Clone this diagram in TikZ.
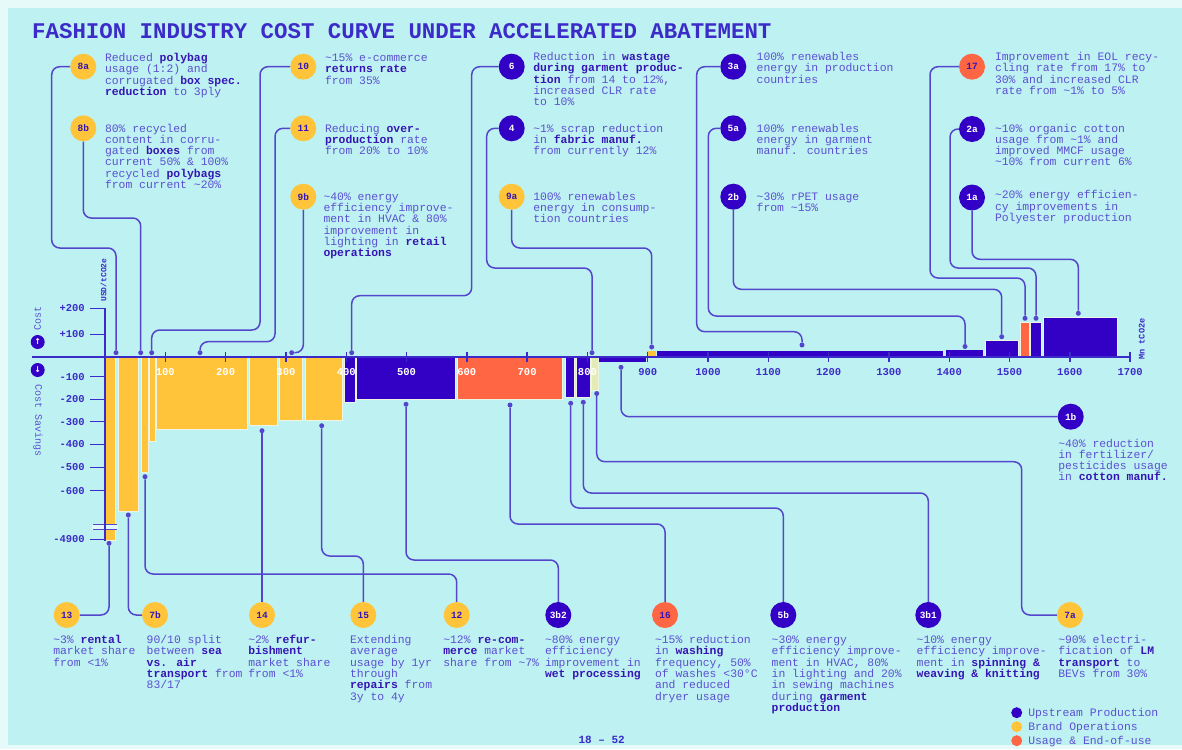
\documentclass[tikz,border=0pt]{standalone}
\usepackage{fontspec}
\newfontfamily\mono{Liberation Mono}
\newfontfamily\djv{DejaVu Sans}
\definecolor{bg}{HTML}{BEF2F2}
\definecolor{rim}{HTML}{E6FAFA}
\definecolor{upC}{HTML}{3300C6}
\definecolor{brandC}{HTML}{FFC43A}
\definecolor{useC}{HTML}{FF6644}
\definecolor{paleC}{HTML}{E4EBB5}
\definecolor{lineC}{HTML}{5346CC}
\definecolor{txtC}{HTML}{5B50D2}
\definecolor{boldC}{HTML}{3516B4}
\definecolor{axisC}{HTML}{3B2BC9}
\definecolor{sepC}{HTML}{EEF4E4}
\newcommand{\TB}[1]{\vtop{\baselineskip=11.33pt\lineskiplimit=-50pt\lineskip=0pt #1}}
\newcommand{\TL}[1]{\hbox{#1}}
\newcommand{\Bx}[1]{{\bfseries\color{boldC}#1}}
\newcommand{\tl}{\textasciitilde}
\tikzset{
  conn/.style={draw=lineC, line width=1.5pt, rounded corners=8pt},
  dotn/.style={circle, fill=lineC, inner sep=0pt, minimum size=5pt},
  lab/.style={circle, inner sep=0pt, minimum size=26pt, font=\mono\bfseries\fontsize{9.5}{10}\selectfont},
  labU/.style={lab, fill=upC, text=white},
  labB/.style={lab, fill=brandC, text=boldC},
  labO/.style={lab, fill=useC, text=boldC},
  desc/.style={anchor=base west, inner sep=0pt, outer sep=0pt, text=txtC, font=\mono\fontsize{11.4}{11.33}\selectfont},
  bar/.style={draw=sepC, line width=0.6pt},
  ytl/.style={anchor=east, inner sep=0pt, text=axisC, font=\mono\bfseries\fontsize{10.5}{11}\selectfont},
  xtl/.style={inner sep=0pt, font=\mono\bfseries\fontsize{10.5}{11}\selectfont},
  axl/.style={draw=axisC, line width=1.4pt},
}
\begin{document}
\begin{tikzpicture}[x=1pt,y=-1pt]
\useasboundingbox (0,0) rectangle (1182,749);
\fill[rim] (0,0) rectangle (1182,749);
\fill[bg] (8,8) rectangle (1182,745);

% title
\node[anchor=base west, inner sep=0pt, text=axisC, font=\mono\bfseries\fontsize{22.4}{24}\selectfont] (title) at (32,38.5) {FASHION INDUSTRY COST CURVE UNDER ACCELERATED ABATEMENT};

% ---------- bars ----------
\path[bar, fill=brandC] (105,357) rectangle (115,540);
\path[bar, fill=brandC] (118,357) rectangle (138,511.7);
\path[bar, fill=brandC] (141.7,357) rectangle (148.3,472.7);
\path[bar, fill=brandC] (149.3,357) rectangle (155,441);
\path[bar, fill=brandC] (156,357) rectangle (247.3,429);
\path[bar, fill=brandC] (249.3,357) rectangle (277.7,425.7);
\path[bar, fill=brandC] (279.3,357) rectangle (302.7,420.3);
\path[bar, fill=brandC] (305,357) rectangle (342.7,420.3);
\path[bar, fill=upC] (344.3,357) rectangle (355,402.7);
\path[bar, fill=upC] (356.5,357) rectangle (455,399);
\path[bar, fill=useC] (457.3,357) rectangle (562.7,399);
\path[bar, fill=upC] (565,357) rectangle (574,397.3);
\path[bar, fill=upC] (576.3,357) rectangle (590.7,397.3);
\path[bar, fill=paleC] (591.7,357) rectangle (598.3,390);
\path[fill=upC] (598.7,357) rectangle (646,362);
\path[fill=brandC] (647,357) rectangle (656,351);
\path[fill=upC] (656.5,357) rectangle (943,351);
\path[fill=upC] (946,357) rectangle (983,350);
\path[bar, fill=upC] (985,357) rectangle (1018.3,340.7);
\path[bar, fill=useC] (1020.7,357) rectangle (1029.3,322.7);
\path[bar, fill=upC] (1030.7,357) rectangle (1041.7,322.7);
\path[bar, fill=upC] (1043.3,357) rectangle (1117.3,317.3);

% break on the deepest bar
\fill[white!55!bg] (92,524.5) rectangle (118,529.5);
\draw[lineC, line width=1pt] (93,524.5) -- (117,524.5) (93,529.5) -- (117,529.5);

% ---------- axes ----------
\draw[draw=axisC, line width=2.2pt] (32,357) -- (1130,357);
\foreach \v in {100,200,...,1700} {
  \draw[axl] ({105+\v*0.603},352) -- ({105+\v*0.603},362);
}
\foreach \v in {100,200,...,800} {
  \node[xtl, text=white] at ({105+\v*0.603},372.5) {\v};
}
\foreach \v in {900,1000,...,1700} {
  \node[xtl, text=axisC] at ({105+\v*0.603},372.5) {\v};
}
\draw[axl] (90,308.3) -- (105,308.3) -- (105,541);
\draw[axl] (90,334.3) -- (105,334.3);
\foreach \yy/\t in {376.7/-100,399.3/-200,421.7/-300,444.3/-400,467.3/-500,490.7/-600,539.3/-4900} {
  \draw[axl] (90,\yy) -- (105,\yy);
  \node[ytl] at (85,\yy) {\t};
}
\node[ytl] (yp2) at (85,308.3) {+200};
\node[ytl] (yp1) at (85,334.3) {+100};
\node[rotate=90, inner sep=0pt, text=axisC, font=\mono\bfseries\fontsize{8}{8}\selectfont] (unit) at (103.5,280) {USD/tCO2e};
\node[rotate=90, inner sep=0pt, text=axisC, font=\mono\bfseries\fontsize{8.6}{9}\selectfont] (mnt) at (1141.7,339) {Mn tCO2e};
\node[rotate=90, inner sep=0pt, text=txtC, font=\mono\fontsize{10}{10}\selectfont] (costl) at (37.7,318) {Cost};
\node[rotate=-90, inner sep=0pt, text=txtC, font=\mono\fontsize{10}{10}\selectfont] (savl) at (38,421) {Cost Savings};
\node[circle, fill=upC, minimum size=14pt, inner sep=0pt, text=white, font=\djv\bfseries\fontsize{8}{8}\selectfont] (upc) at (37.7,342) {↑};
\node[circle, fill=upC, minimum size=14pt, inner sep=0pt, text=white, font=\djv\bfseries\fontsize{8}{8}\selectfont] (dnc) at (37.7,370) {↓};

% ---------- label circles ----------
\node[labB] (c8a) at (83.3,66.7) {8a};
\node[labB] (c8b) at (83.3,128.3) {8b};
\node[labB] (c10) at (303.3,66.7) {10};
\node[labB] (c11) at (303.3,128.3) {11};
\node[labB] (c9b) at (303.3,196.7) {9b};
\node[labU] (c6) at (511.7,66.7) {6};
\node[labU] (c4) at (511.7,128.3) {4};
\node[labB] (c9a) at (511.7,196.7) {9a};
\node[labU] (c3a) at (733.3,66.7) {3a};
\node[labU] (c5a) at (733.3,128.3) {5a};
\node[labU] (c2b) at (733.3,196.7) {2b};
\node[labO] (c17) at (972,66.7) {17};
\node[labU] (c2a) at (972,129) {2a};
\node[labU] (c1a) at (972,197.5) {1a};
\node[labU] (c1b) at (1070.7,416.7) {1b};
\node[labB] (c13) at (66.7,615) {13};
\node[labB] (c7b) at (155,615) {7b};
\node[labB] (c14) at (262,615) {14};
\node[labB] (c15) at (363.3,615) {15};
\node[labB] (c12) at (456.7,615) {12};
\node[labU] (c3b2) at (558.3,615) {3b2};
\node[labO] (c16) at (665,615) {16};
\node[labU] (c5b) at (783.3,615) {5b};
\node[labU] (c3b1) at (928.3,615) {3b1};
\node[labB] (c7a) at (1070,615) {7a};

% ---------- dots ----------
\node[dotn] (d8a) at (116,352.7) {};
\node[dotn] (d8b) at (140.7,352.7) {};
\node[dotn] (d10) at (151.7,352.7) {};
\node[dotn] (d11) at (200,352.7) {};
\node[dotn] (d9b) at (291.7,352.7) {};
\node[dotn] (d6) at (351.7,352.7) {};
\node[dotn] (d4) at (592,352.7) {};
\node[dotn] (d9a) at (651.7,347) {};
\node[dotn] (d3a) at (802,345) {};
\node[dotn] (d5a) at (965,346.5) {};
\node[dotn] (d2b) at (1001.7,336.7) {};
\node[dotn] (d17) at (1025,318.3) {};
\node[dotn] (d2a) at (1036,318.3) {};
\node[dotn] (d1a) at (1078.3,313.3) {};
\node[dotn] (d13) at (109,543.3) {};
\node[dotn] (d7b) at (128.3,515) {};
\node[dotn] (d12) at (145,476.7) {};
\node[dotn] (d14) at (262,430.7) {};
\node[dotn] (d15) at (321.7,425.7) {};
\node[dotn] (d3b2) at (406,404.3) {};
\node[dotn] (d16) at (510,405) {};
\node[dotn] (d5b) at (570.7,403.3) {};
\node[dotn] (d3b1) at (583.3,402.3) {};
\node[dotn] (d7a) at (596.7,393.5) {};
\node[dotn] (d1b) at (621,367.3) {};

% ---------- connectors ----------
\draw[conn] (c8a) -- (51.7,66.7) -- (51.7,248) -- (116,248) -- (d8a);
\draw[conn] (c8b) -- (83.3,218) -- (140.7,218) -- (d8b);
\draw[conn] (c10) -- (260,66.7) -- (260,330) -- (151.7,330) -- (d10);
\draw[conn] (c11) -- (275,128.3) -- (275,341.7) -- (200,341.7) -- (d11);
\draw[conn] (c9b) -- (303.3,352.7) -- (d9b);
\draw[conn] (c6) -- (471.7,66.7) -- (471.7,295.7) -- (351.7,295.7) -- (d6);
\draw[conn] (c4) -- (486.7,128.3) -- (486.7,268) -- (592,268) -- (d4);
\draw[conn] (c9a) -- (511.7,248) -- (651.7,248) -- (d9a);
\draw[conn] (c3a) -- (696.7,66.7) -- (696.7,331.7) -- (802,331.7) -- (d3a);
\draw[conn] (c5a) -- (708.3,128.3) -- (708.3,316) -- (965,316) -- (d5a);
\draw[conn] (c2b) -- (733.3,289.3) -- (1001.7,289.3) -- (d2b);
\draw[conn] (c17) -- (930,66.7) -- (930,278) -- (1025,278) -- (d17);
\draw[conn] (c2a) -- (950,129) -- (950,268) -- (1036,268) -- (d2a);
\draw[conn] (c1a) -- (972,259.3) -- (1078.3,259.3) -- (d1a);
\draw[conn] (d13) -- (109,615) -- (c13);
\draw[conn] (d7b) -- (128.3,615) -- (c7b);
\draw[conn] (d12) -- (145,574) -- (456.7,574) -- (c12);
\draw[conn] (d14) -- (c14);
\draw[conn] (d15) -- (321.7,556) -- (363.3,556) -- (c15);
\draw[conn] (d3b2) -- (406,560) -- (558.3,560) -- (c3b2);
\draw[conn] (d16) -- (510,524) -- (665,524) -- (c16);
\draw[conn] (d5b) -- (570.7,508) -- (783.3,508) -- (c5b);
\draw[conn] (d3b1) -- (583.3,493) -- (928.3,493) -- (c3b1);
\draw[conn] (d7a) -- (596.7,461.7) -- (1021.7,461.7) -- (1021.7,615) -- (c7a);
\draw[conn] (d1b) -- (621,416.7) -- (c1b);

% ---------- descriptions (top) ----------
\node[desc] (t8a) at (105,61.5) {\TB{\TL{Reduced \Bx{polybag}}\TL{usage (1:2) and}\TL{corrugated \Bx{box spec.}}\TL{\Bx{reduction} to 3ply}}};
\node[desc] (t8b) at (105,132) {\TB{\TL{80\% recycled}\TL{content in corru-}\TL{gated \Bx{boxes} from}\TL{current 50\% \& 100\%}\TL{recycled \Bx{polybags}}\TL{from current \tl20\%}}};
\node[desc] (t10) at (325,61.5) {\TB{\TL{\tl15\% e-commerce}\TL{\Bx{returns rate}}\TL{from 35\%}}};
\node[desc] (t11) at (325,132) {\TB{\TL{Reducing \Bx{over-}}\TL{\Bx{production} rate}\TL{from 20\% to 10\%}}};
\node[desc] (t9b) at (323.5,200.3) {\TB{\TL{\tl40\% energy}\TL{efficiency improve-}\TL{ment in HVAC \& 80\%}\TL{improvement in}\TL{lighting in \Bx{retail}}\TL{\Bx{operations}}}};
\node[desc] (t6) at (533.3,60.5) {\TB{\TL{Reduction in \Bx{wastage}}\TL{\Bx{during garment produc-}}\TL{\Bx{tion} from 14 to 12\%,}\TL{increased CLR rate}\TL{to 10\%}}};
\node[desc] (t4) at (533.3,132) {\TB{\TL{\tl1\% scrap reduction}\TL{in \Bx{fabric manuf.}}\TL{from currently 12\%}}};
\node[desc] (t9a) at (533.3,200.3) {\TB{\TL{100\% renewables}\TL{energy in consump-}\TL{tion countries}}};
\node[desc] (t3a) at (756.7,60.5) {\TB{\TL{100\% renewables}\TL{energy in production}\TL{countries}}};
\node[desc] (t5a) at (756.7,132) {\TB{\TL{100\% renewables}\TL{energy in garment}\TL{manuf. countries}}};
\node[desc] (t2b) at (756.7,200.3) {\TB{\TL{\tl30\% rPET usage}\TL{from \tl15\%}}};
\node[desc] (t17) at (995,60.5) {\TB{\TL{Improvement in EOL recy-}\TL{cling rate from 17\% to}\TL{30\% and increased CLR}\TL{rate from \tl1\% to 5\%}}};
\node[desc] (t2a) at (995,132) {\TB{\TL{\tl10\% organic cotton}\TL{usage from \tl1\% and}\TL{improved MMCF usage}\TL{\tl10\% from current 6\%}}};
\node[desc] (t1a) at (995,198.7) {\TB{\TL{\tl20\% energy efficien-}\TL{cy improvements in}\TL{Polyester production}}};
\node[desc] (t1b) at (1058.3,447) {\TB{\TL{\tl40\% reduction}\TL{in fertilizer/}\TL{pesticides usage}\TL{in \Bx{cotton manuf.}}}};

% ---------- descriptions (bottom) ----------
\node[desc] (t13) at (53.3,643.5) {\TB{\TL{\tl3\% \Bx{rental}}\TL{market share}\TL{from <1\%}}};
\node[desc] (t7b) at (146.7,643.5) {\TB{\TL{90/10 split}\TL{between \Bx{sea}}\TL{\Bx{vs. air}}\TL{\Bx{transport} from}\TL{83/17}}};
\node[desc] (t14) at (248.3,643.5) {\TB{\TL{\tl2\% \Bx{refur-}}\TL{\Bx{bishment}}\TL{market share}\TL{from <1\%}}};
\node[desc] (t15) at (350,643.5) {\TB{\TL{Extending}\TL{average}\TL{usage by 1yr}\TL{through}\TL{\Bx{repairs} from}\TL{3y to 4y}}};
\node[desc] (t12) at (443.3,643.5) {\TB{\TL{\tl12\% \Bx{re-com-}}\TL{\Bx{merce} market}\TL{share from \tl7\%}}};
\node[desc] (t3b2) at (545,643.5) {\TB{\TL{\tl80\% energy}\TL{efficiency}\TL{improvement in}\TL{\Bx{wet processing}}}};
\node[desc] (t16) at (655,643.5) {\TB{\TL{\tl15\% reduction}\TL{in \Bx{washing}}\TL{frequency, 50\%}\TL{of washes <30°C}\TL{and reduced}\TL{dryer usage}}};
\node[desc] (t5b) at (771.7,643.5) {\TB{\TL{\tl30\% energy}\TL{efficiency improve-}\TL{ment in HVAC, 80\%}\TL{in lighting and 20\%}\TL{in sewing machines}\TL{during \Bx{garment}}\TL{\Bx{production}}}};
\node[desc] (t3b1) at (916.7,643.5) {\TB{\TL{\tl10\% energy}\TL{efficiency improve-}\TL{ment in \Bx{spinning \&}}\TL{\Bx{weaving \& knitting}}}};
\node[desc] (t7a) at (1058.3,643.5) {\TB{\TL{\tl90\% electri-}\TL{fication of \Bx{LM}}\TL{\Bx{transport} to}\TL{BEVs from 30\%}}};

% ---------- legend ----------
\node[circle, fill=upC, minimum size=11pt, inner sep=0pt] (lg1) at (1016.7,712.7) {};
\node[circle, fill=brandC, minimum size=11pt, inner sep=0pt] (lg2) at (1016.7,726.7) {};
\node[circle, fill=useC, minimum size=11pt, inner sep=0pt] (lg3) at (1016.7,740.7) {};
\node[desc] (lt1) at (1028.3,716.2) {Upstream Production};
\node[desc] (lt2) at (1028.3,730.2) {Brand Operations};
\node[desc] (lt3) at (1028.3,744.2) {Usage \& End-of-use};

% page number
\node[inner sep=0pt, text=axisC, font=\mono\bfseries\fontsize{11}{12}\selectfont] (pg) at (601.7,740) {18 – 52};
\end{tikzpicture}
\end{document}
